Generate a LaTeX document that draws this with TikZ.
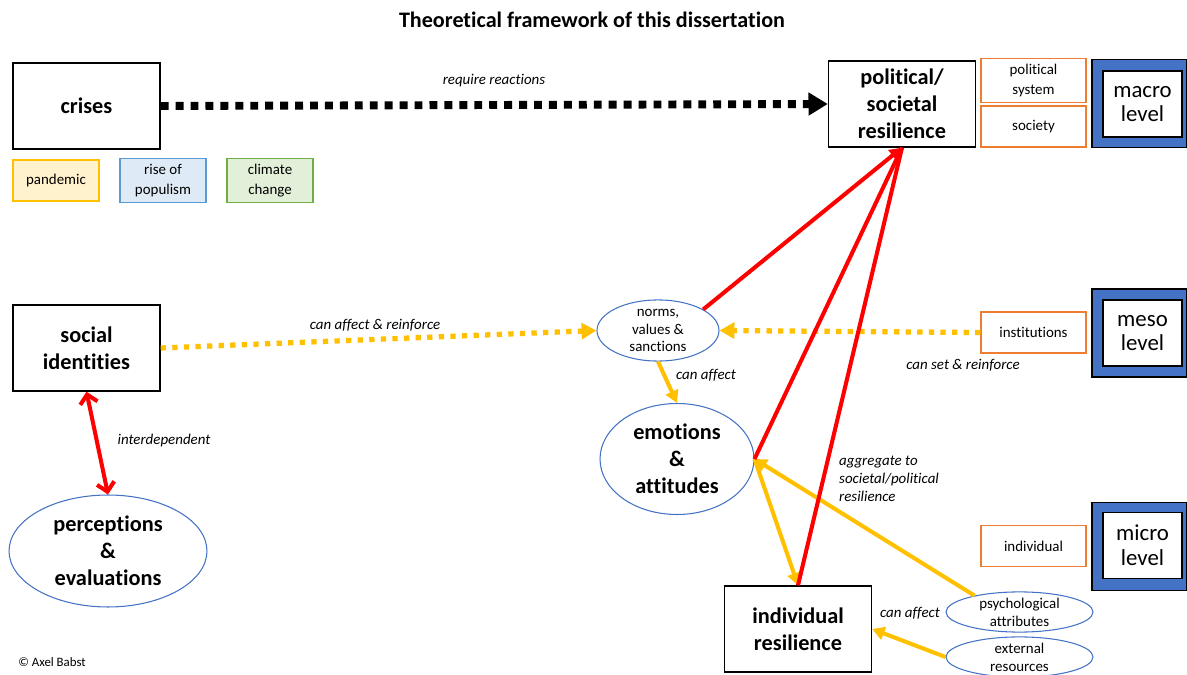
\documentclass[tikz,border=0pt]{standalone}
\usepackage{fontspec}
\setmainfont{Carlito}[Ligatures=NoCommon]
\usetikzlibrary{arrows.meta,shapes.geometric}

\definecolor{boxorange}{HTML}{ED7D31}
\definecolor{ellblue}{HTML}{4472C4}
\definecolor{lvlblue}{HTML}{4472C4}
\definecolor{arryellow}{HTML}{FFC000}
\definecolor{arrred}{HTML}{FF0000}
\definecolor{pandfill}{HTML}{FFF2CC}
\definecolor{popfill}{HTML}{DEEBF7}
\definecolor{popdraw}{HTML}{5B9BD5}
\definecolor{climfill}{HTML}{E2F0D9}
\definecolor{climdraw}{HTML}{70AD47}

\begin{document}
\begin{tikzpicture}[x=0.02cm,y=-0.02cm,
  bigbox/.style={draw,line width=0.8pt,minimum width=2.94cm,minimum height=1.72cm,align=center,font=\bfseries\fontsize{12.7}{15.3}\selectfont},
  crisisbox/.style={draw=#1,line width=0.6pt,minimum width=1.72cm,minimum height=0.82cm,align=center,font=\fontsize{8.5}{11}\selectfont},
  orangebox/.style={draw=boxorange,line width=0.6pt,minimum width=2.1cm,minimum height=0.82cm,align=center,font=\fontsize{8.5}{11}\selectfont},
  lvlouter/.style={draw,fill=lvlblue,line width=0.6pt,minimum width=1.9cm,minimum height=1.76cm},
  lvlinner/.style={draw,fill=white,line width=0.8pt,minimum width=1.58cm,minimum height=1.32cm,align=center,font=\fontsize{13}{14}\selectfont},
  bigell/.style={ellipse,draw=ellblue,line width=0.6pt,inner sep=0pt,align=center,font=\bfseries\fontsize{12.7}{15.3}\selectfont},
  smallell/.style={ellipse,draw=ellblue,line width=0.6pt,inner sep=0pt,align=center,font=\fontsize{8.5}{10.2}\selectfont},
  lbl/.style={font=\itshape\fontsize{8.5}{10.2}\selectfont},
  blackdots/.style={line width=4.5pt,dash pattern=on 4.5pt off 4pt,-{Triangle[length=11pt,width=12.5pt]}},
  yellowdots/.style={arryellow,line width=3pt,dash pattern=on 3pt off 3.6pt,-{Triangle[length=8.5pt,width=9pt]}},
  yellowarr/.style={arryellow,line width=2.3pt,-{Triangle[length=7pt,width=7.5pt]}},
  redline/.style={arrred,line width=2.3pt}
]
\useasboundingbox (0,0) rectangle (1187,675);

% Title
\node (title) at (592,20) {\bfseries\fontsize{12.6}{14}\selectfont Theoretical framework of this dissertation};

% Crises and examples
\node[bigbox] (crises) at (86.5,106) {crises};
\node[crisisbox=arryellow,fill=pandfill] (pandemic) at (56,180.5) {pandemic};
\node[crisisbox=popdraw,fill=popfill] (populism) at (163,180.5) {rise of\\populism};
\node[crisisbox=climdraw,fill=climfill] (climate) at (270,180.5) {climate\\change};

% Macro level
\node[bigbox] (political) at (902,104) {political/\\societal\\resilience};
\node[orangebox] (polsystem) at (1033.5,80.5) {political\\system};
\node[orangebox] (society) at (1033.5,126.5) {society};
\node[lvlouter] (macroout) at (1139.5,103.5) {};
\node[lvlinner] (macro) at (1142.5,104) {macro\\level};

% Meso level
\node[smallell,minimum width=2.44cm,minimum height=1.1cm] (norms) at (658,330.5) {norms,\\values \&\\sanctions};
\node[orangebox] (institutions) at (1033.5,332.5) {institutions};
\node[lvlouter] (mesoout) at (1139.5,333) {};
\node[lvlinner] (meso) at (1142.5,333) {meso\\level};

% Micro level
\node[bigbox] (social) at (86.5,348) {social\\identities};
\node[bigell,minimum width=3.96cm,minimum height=2.24cm] (perceptions) at (108,551) {perceptions\\\&\\evaluations};
\node[bigell,minimum width=3.08cm,minimum height=2.22cm] (emotions) at (677,459) {emotions\\\&\\attitudes};
\node[bigbox] (indiv) at (798,629) {individual\\resilience};
\node[smallell,minimum width=2.94cm,minimum height=0.8cm] (psych) at (1019.5,612) {psychological\\attributes};
\node[smallell,minimum width=2.94cm,minimum height=0.8cm] (external) at (1019.5,657) {external\\resources};
\node[orangebox] (individual) at (1033.5,546) {individual};
\node[lvlouter] (microout) at (1139.5,546.5) {};
\node[lvlinner] (micro) at (1142.5,545.5) {micro\\level};

% Connectors
\draw[blackdots] (crises.east) -- (political.west);
\draw[yellowdots] (social.east) -- (norms.west);
\draw[yellowdots] (institutions.west) -- (norms.east);
\draw[yellowarr] (norms.south) -- (emotions.north);
\draw[yellowarr] (emotions.east) -- (indiv.north);
\draw[yellowarr] (psych.160) -- (emotions.east);
\draw[yellowarr] (external.west) -- (indiv.east);
\draw[redline,-{Triangle[length=7pt,width=7.5pt]}] (norms.25) -- (political.south);
\draw[redline] (emotions.east) -- (political.south);
\draw[redline] (indiv.north) -- (political.south);
\draw[redline,{Straight Barb[length=5pt,width=10pt]}-{Straight Barb[length=5pt,width=10pt]}] (social.south) -- (perceptions.north);

% Labels
\node[lbl] (lreact) at (494,81) {require reactions};
\node[lbl] (lreinf) at (375,325) {can affect \& reinforce};
\node[lbl] (lset) at (963,365) {can set \& reinforce};
\node[lbl] (laffect) at (706,375) {can affect};
\node[lbl] (linter) at (164,441) {interdependent};
\node[lbl,anchor=west,align=left,font=\itshape\fontsize{8.5}{10.3}\selectfont] (laggr) at (833,479) {aggregate to\\societal/political\\resilience};
\node[lbl] (laffect2) at (910,613) {can affect};
\node[font=\fontsize{7.3}{9}\selectfont] (copy) at (52,662) {© Axel Babst};

\end{tikzpicture}
\end{document}
